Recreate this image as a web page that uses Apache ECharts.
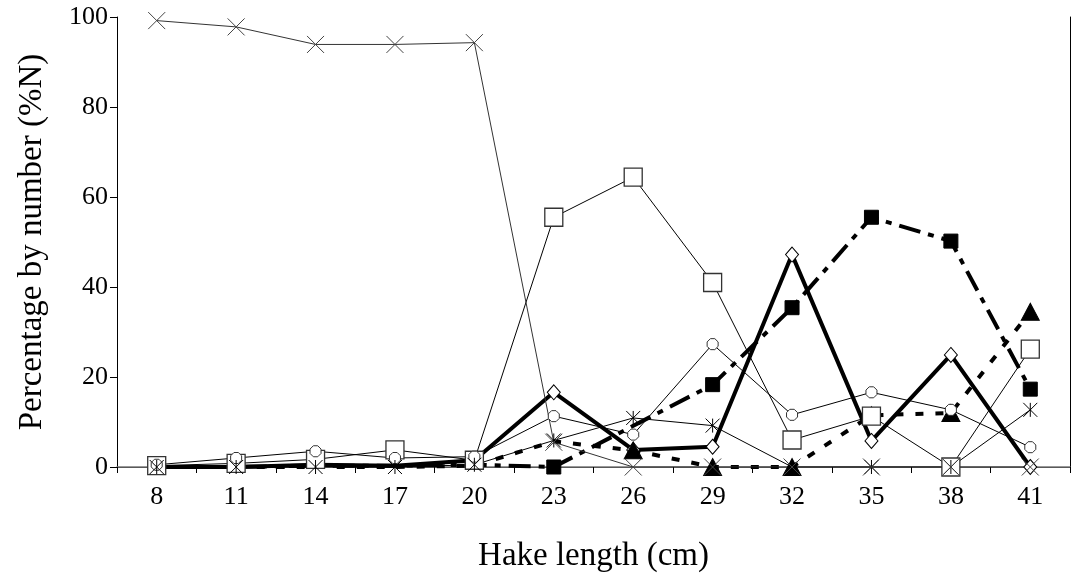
<!DOCTYPE html>
<html>
<head>
<meta charset="utf-8" />
<title>hake length</title>
<script src="https://cdn.jsdelivr.net/npm/echarts@6/dist/echarts.min.js"></script>
<style>body{margin:0;background:#fff;}</style>
</head>
<body>
<div id="chart" style="width:1073px;height:578px;"></div>
<script>
	// hake length classes (cm)
	var lengths = ['8','11','14','17','20','23','26','29','32','35','38','41'];
	var yTicks = [0, 20, 40, 60, 80, 100];

	// %N per prey group (null = no point)
	var diamondData  = [0, 0, 0.5, 0.3, 1.5, 16.6, 3.8, 4.5, 47.2, 5.8, 24.9, 0];
	var blackSqData  = [0, 0, 0.3, 0.3, 0.5, 0, null, 18.3, 35.4, 55.5, 50.2, 17.3];
	var triangleData = [0, 0, 0, 0, 0.3, 5.7, 3.7, 0, 0, 11.5, 12, 34.5];
	var squareData   = [0.3, 0.8, 1.7, 3.8, 1.5, 55.5, 64.4, 41, 6, 11.3, 0, 26.2];
	var octagonData  = [0.5, 2, 3.5, 2, 2.3, 11.3, 7.2, 27.3, 11.6, 16.6, 12.7, 4.4];
	var starData     = [0, 0, 0, 0, 0.5, 5.9, 10.9, 9.2, 0, 0, 0, 12.7];
	var crossData    = [99.2, 97.8, 93.9, 93.9, 94.3, 5.5, 0, 0, 0, 0, 0, 0];

	var FONT = '"Liberation Serif", "Times New Roman", serif';

	window.onload = function(){
		hakeChart();
	};

	// marker only from a given length class on (the small ones sit under the others)
	function markerFrom(shape, first){
		return function(value, params){
			return params.dataIndex >= first ? shape : 'none';
		};
	}

	function hakeChart(){
		var myChart = echarts.init(document.getElementById('chart'));
		var option = {
			animation: false,
			backgroundColor: '#fff',
			grid: {left: 117, right: 3, top: 17, bottom: 103},
			xAxis: [
				{
					type: 'category',
					data: lengths,
					boundaryGap: true,
					name: 'Hake length (cm)',
					nameLocation: 'middle',
					nameGap: 73,
					nameTextStyle: {fontFamily: FONT, fontSize: 33, color: '#000'},
					axisLine: {lineStyle: {color: '#000', width: 1}},
					axisTick: {show: true, inside: false, length: 6, interval: 0, lineStyle: {color: '#000'}},
					axisLabel: {fontFamily: FONT, fontSize: 26, color: '#000', margin: 17, interval: 0},
					splitLine: {show: false}
				},
				{
					type: 'category',
					data: lengths,
					position: 'top',
					axisLine: {lineStyle: {color: '#777', width: 1.5}},
					axisTick: {show: false},
					axisLabel: {show: false}
				}
			],
			yAxis: [
				{
					type: 'value',
					min: yTicks[0],
					max: yTicks[yTicks.length - 1],
					interval: 20,
					name: 'Percentage by number (%N)',
					nameLocation: 'middle',
					nameGap: 68,
					nameTextStyle: {fontFamily: FONT, fontSize: 33, color: '#000'},
					axisLine: {show: true, lineStyle: {color: '#000', width: 1}},
					axisTick: {show: true, inside: false, length: 7, lineStyle: {color: '#000'}},
					axisLabel: {fontFamily: FONT, fontSize: 26, color: '#000', margin: 9},
					splitLine: {show: false}
				},
				{
					type: 'value',
					min: 0,
					max: 100,
					position: 'right',
					axisLine: {show: true, lineStyle: {color: '#000', width: 1}},
					axisTick: {show: false},
					axisLabel: {show: false},
					splitLine: {show: false}
				}
			],
			series: [
				{
					name: 'diamond', type: 'line', data: diamondData,
					symbol: markerFrom('diamond', 5), symbolSize: [13, 15], showAllSymbol: true,
					itemStyle: {color: '#fff', borderColor: '#000', borderWidth: 1},
					lineStyle: {color: '#000', width: 4}
				},
				{
					name: 'black square', type: 'line', data: blackSqData, connectNulls: true,
					symbol: markerFrom('rect', 5), symbolSize: 14, showAllSymbol: true,
					itemStyle: {color: '#000', borderColor: '#000', borderWidth: 1},
					lineStyle: {color: '#000', width: 4, type: [22, 8, 6, 8]}
				},
				{
					name: 'triangle', type: 'line', data: triangleData,
					symbol: markerFrom('triangle', 6), symbolSize: [18, 17], showAllSymbol: true,
					itemStyle: {color: '#000', borderColor: '#000', borderWidth: 1},
					lineStyle: {color: '#000', width: 4, type: [8, 12]}
				},
				{
					name: 'square', type: 'line', data: squareData,
					symbol: 'rect', symbolSize: 18, showAllSymbol: true,
					itemStyle: {color: '#fff', borderColor: '#333', borderWidth: 1.3},
					lineStyle: {color: '#000', width: 1}
				},
				{
					name: 'octagon', type: 'line', data: octagonData,
					symbol: 'path://M3,0L7,0L10,3L10,7L7,10L3,10L0,7L0,3Z', symbolSize: 11, showAllSymbol: true,
					itemStyle: {color: '#fff', borderColor: '#333', borderWidth: 1},
					lineStyle: {color: '#000', width: 1}
				},
				{
					name: 'asterisk', type: 'line', data: starData,
					symbol: 'path://M0,0L10,10M10,0L0,10M5,0L5,10', symbolSize: 14, showAllSymbol: true,
					itemStyle: {color: 'none', borderColor: '#000', borderWidth: 1},
					lineStyle: {color: '#000', width: 1}
				},
				{
					name: 'cross', type: 'line', data: crossData,
					symbol: 'path://M0,0L10,10M10,0L0,10', symbolSize: 17, showAllSymbol: true,
					itemStyle: {color: 'none', borderColor: '#444', borderWidth: 1},
					lineStyle: {color: '#333', width: 1}
				}
			]
		};
		myChart.setOption(option);
	}
</script>
</body>
</html>
